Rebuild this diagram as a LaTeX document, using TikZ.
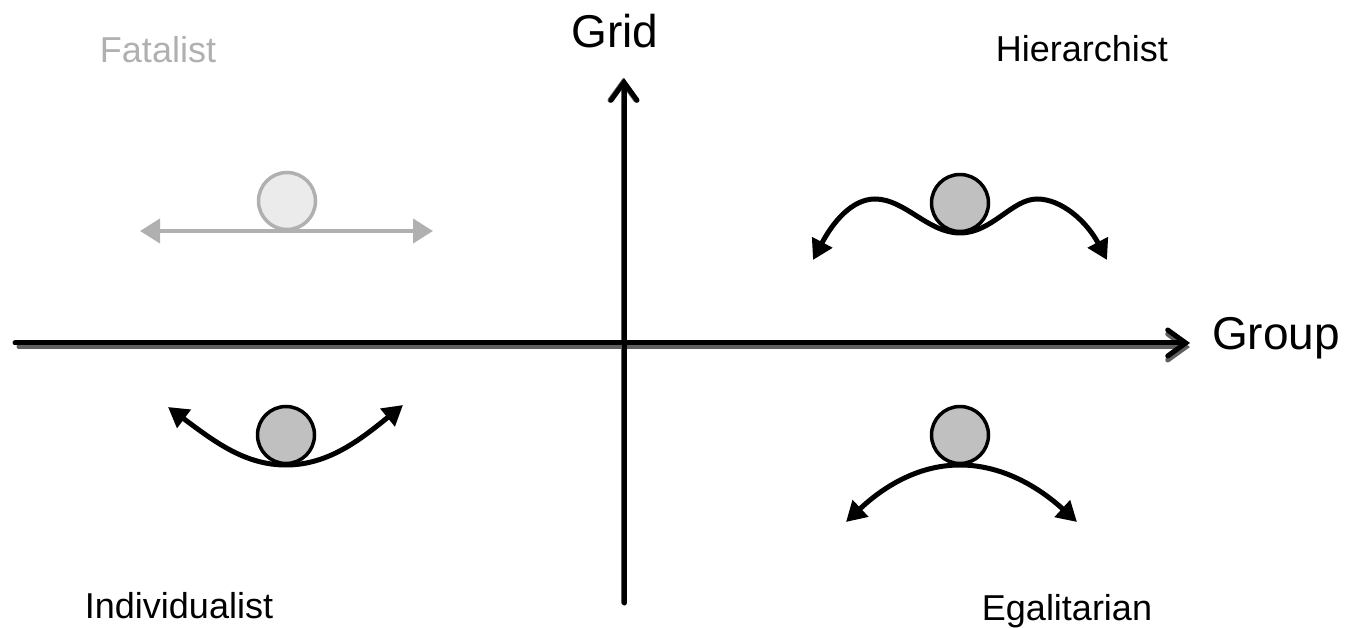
\documentclass[tikz,border=0pt]{standalone}
\usepackage{fontspec}
\setmainfont{Liberation Sans}
\usetikzlibrary{arrows.meta}
\definecolor{fatgray}{HTML}{B0B0B0}
\definecolor{fatfill}{HTML}{EBEBEB}
\definecolor{ballfill}{HTML}{C0C0C0}
\definecolor{shadowgray}{HTML}{606060}
\begin{document}
\begin{tikzpicture}[x=1pt,y=-1pt,
  lbl/.style={font=\fontsize{36}{40}\selectfont, anchor=base, inner sep=0pt},
  biglbl/.style={font=\fontsize{46}{50}\selectfont, anchor=base, inner sep=0pt},
  axisline/.style={line width=5pt, line cap=round, -{Straight Barb[length=18pt,width=26pt,line cap=round]}},
  ball/.style={circle, draw=black, line width=3.5pt, fill=ballfill, minimum size=57pt, inner sep=0pt},
  fatball/.style={circle, draw=fatgray, line width=3.5pt, fill=fatfill, minimum size=57pt, inner sep=0pt},
  swing/.style={line width=5pt, {Triangle[length=20pt,width=22pt]}-{Triangle[length=20pt,width=22pt]}},
  fatswing/.style={line width=4pt, draw=fatgray, {Triangle[length=20pt,width=24pt]}-{Triangle[length=20pt,width=24pt]}}
]
\useasboundingbox (0,0) rectangle (1350,628);

% axes
\coordinate (xl) at (15,343);
\coordinate (xr) at (1190,343);
\coordinate (yb) at (624,603);
\coordinate (yt) at (624,78);
\draw[axisline, draw=shadowgray] ([shift={(4,4)}]xl) -- ([shift={(0,4)}]xr);
\draw[axisline, draw=shadowgray] ([shift={(-1,-1)}]yb) -- ([shift={(-1,0)}]yt);
\draw[axisline, draw=black] (xl) -- (xr);
\draw[axisline, draw=black] (yb) -- (yt);

% labels
\node[biglbl] (grid) at (615,48) {Grid};
\node[biglbl] (group) at (1276,350) {Group};
\node[lbl, text=fatgray] (fat) at (158,63) {Fatalist};
\node[lbl] (hier) at (1082,62) {Hierarchist};
\node[lbl] (indiv) at (179,618) {Individualist};
\node[lbl] (egal) at (1067,620) {Egalitarian};

% Fatalist
\coordinate (fl) at (140,231);
\coordinate (fr) at (433,231);
\draw[fatswing] (fl) -- (fr);
\node[fatball] (fb) at (287,201) {};

% Hierarchist
\coordinate (hl) at (813,260);
\coordinate (hp1) at (875,199);
\coordinate (hb) at (960,233);
\coordinate (hp2) at (1037,199);
\coordinate (hr) at (1107,260);
\draw[swing] (hl) .. controls (833,222) and (852,199) .. (hp1)
  .. controls (905,199) and (928,233) .. (hb)
  .. controls (992,233) and (1012,199) .. (hp2)
  .. controls (1062,199) and (1087,222) .. (hr);
\node[ball] (hc) at (960,203) {};

% Individualist
\coordinate (il) at (168,407);
\coordinate (ib) at (286,465);
\coordinate (ir) at (403,405);
\draw[swing] (il) .. controls (215,442) and (245,465) .. (ib)
  .. controls (328,465) and (360,440) .. (ir);
\node[ball] (ic) at (286,435) {};

% Egalitarian
\coordinate (el) at (846,522);
\coordinate (et) at (960,465);
\coordinate (er) at (1077,522);
\draw[swing] (el) .. controls (880,490) and (915,465) .. (et)
  .. controls (1005,465) and (1042,490) .. (er);
\node[ball] (ec) at (960,435) {};
\end{tikzpicture}
\end{document}
